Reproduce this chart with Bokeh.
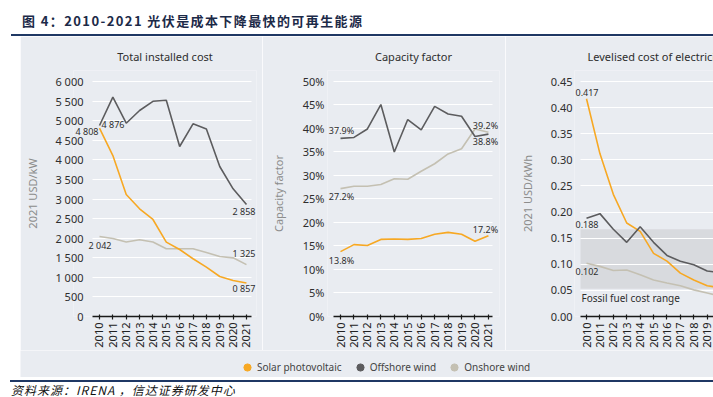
import numpy as np
from bokeh.plotting import figure
from bokeh.models import (Range1d, FixedTicker, Label, BoxAnnotation, Legend, LegendItem,
                          Div, Spacer, ColumnDataSource, Grid)
from bokeh.layouts import column, row
from bokeh.embed import file_html
from bokeh.resources import INLINE

# ---------------- data ----------------
years = [2010, 2011, 2012, 2013, 2014, 2015, 2016, 2017, 2018, 2019, 2020, 2021]
year_labels = ["2010", "2011", "2012", "2013", "2014", "2015", "2016", "2017", "2018", "2019", "2020", "2021"]
series_names = ["Solar photovoltaic", "Offshore wind", "Onshore wind"]

# Total installed cost (2021 USD/kW)
cost_solar = [4808, 4110, 3115, 2750, 2477, 1900, 1710, 1475, 1260, 1021, 920, 857]
cost_offshore = [4876, 5600, 4935, 5260, 5495, 5520, 4340, 4920, 4790, 3830, 3260, 2858]
cost_onshore = [2042, 1990, 1900, 1960, 1900, 1728, 1728, 1730, 1634, 1532, 1498, 1325]
cost_ticks = [0, 500, 1000, 1500, 2000, 2500, 3000, 3500, 4000, 4500, 5000, 5500, 6000]
cost_tick_labels = ["0", "500", "1 000", "1 500", "2 000", "2 500", "3 000", "3 500",
                    "4 000", "4 500", "5 000", "5 500", "6 000"]

# Capacity factor (%)
cf_solar = [13.8, 15.3, 15.1, 16.4, 16.5, 16.4, 16.6, 17.5, 17.9, 17.5, 16.0, 17.2]
cf_offshore = [37.9, 38.1, 39.9, 45.1, 35.0, 41.9, 39.7, 44.7, 43.1, 42.6, 38.3, 38.8]
cf_onshore = [27.2, 27.7, 27.7, 28.1, 29.3, 29.2, 30.9, 32.5, 34.6, 35.7, 39.9, 39.2]
cf_ticks = [0, 5, 10, 15, 20, 25, 30, 35, 40, 45, 50]
cf_tick_labels = ["0%", "5%", "10%", "15%", "20%", "25%", "30%", "35%", "40%", "45%", "50%"]

# Levelised cost of electricity (2021 USD/kWh)
lcoe_solar = [0.417, 0.312, 0.234, 0.179, 0.163, 0.121, 0.106, 0.083, 0.070, 0.059, 0.055, 0.048]
lcoe_offshore = [0.188, 0.197, 0.167, 0.142, 0.172, 0.142, 0.117, 0.106, 0.099, 0.087, 0.084, 0.075]
lcoe_onshore = [0.102, 0.096, 0.088, 0.089, 0.080, 0.070, 0.064, 0.059, 0.051, 0.045, 0.039, 0.033]
lcoe_ticks = [0.0, 0.05, 0.1, 0.15, 0.2, 0.25, 0.3, 0.35, 0.4, 0.45]
lcoe_tick_labels = ["0.00", "0.05", "0.10", "0.15", "0.20", "0.25", "0.30", "0.35", "0.40", "0.45"]
fossil_range = [0.053, 0.167]

# ---------------- style ----------------
BG = "#e9ecf1"
COLORS = ["#f7a823", "#5c5c5e", "#c4c0b2"]
FONT = "Noto Sans"
TXT = "#2e2e2e"
HAS_CROSS = "cross_bounds" in Grid.properties()


def make_panel(title, width, bl, br, xr, xb, yr, ticks, tick_labels, ylabel,
               tick_standoff, ylabel_standoff, series):
    p = figure(width=width, height=314, x_range=Range1d(*xr), y_range=Range1d(*yr),
               output_backend="svg", toolbar_location=None,
               min_border_left=bl, min_border_right=br, min_border_top=34, min_border_bottom=34,
               background_fill_color=BG, border_fill_color=BG, outline_line_color=None)
    p.title.text = title
    p.title.text_font = FONT
    p.title.text_font_size = "11px"
    p.title.text_font_style = "normal"
    p.title.text_color = TXT
    p.title.align = "center"
    p.title.standoff = 14

    xa = p.xaxis[0]
    xa.bounds = xb
    xa.ticker = FixedTicker(ticks=years)
    xa.major_label_overrides = dict(zip(years, year_labels))
    xa.major_label_orientation = np.pi / 2
    xa.major_label_text_font = FONT
    xa.major_label_text_font_size = "11px"
    xa.major_label_text_color = "#222"
    xa.major_label_standoff = 3
    xa.axis_line_color = "#1a1a1a"
    xa.axis_line_width = 1.6
    xa.major_tick_line_color = "#1a1a1a"
    xa.major_tick_line_width = 1.2
    xa.major_tick_in = 2
    xa.major_tick_out = 3
    xa.minor_tick_line_color = None

    ya = p.yaxis[0]
    ya.ticker = FixedTicker(ticks=ticks)
    ya.major_label_overrides = dict(zip(ticks, tick_labels))
    ya.major_label_text_font = FONT
    ya.major_label_text_font_size = "11px"
    ya.major_label_text_color = TXT
    ya.major_label_standoff = tick_standoff
    ya.axis_line_color = None
    ya.major_tick_line_color = None
    ya.minor_tick_line_color = None
    ya.major_tick_in = 0
    ya.major_tick_out = 0
    ya.axis_label = ylabel
    ya.axis_label_text_font = FONT
    ya.axis_label_text_font_size = "11px"
    ya.axis_label_text_font_style = "normal"
    ya.axis_label_text_color = "#8c8c8c"
    ya.axis_label_standoff = ylabel_standoff

    p.xgrid.visible = False
    if HAS_CROSS:
        p.ygrid.cross_bounds = xb
        p.ygrid.grid_line_color = "white"
        p.ygrid.grid_line_width = 1.2
    else:
        p.ygrid.visible = False
        p.segment(x0=[xb[0]] * len(ticks), x1=[xb[1]] * len(ticks), y0=ticks, y1=ticks,
                  line_color="white", line_width=1.2, level="underlay")

    for idx in (2, 0, 1):
        p.line(years, series[idx], line_color=COLORS[idx], line_width=1.6)
    return p


def add_labels(p, items):
    for (x, y, text, xo, yo) in items:
        p.add_layout(Label(x=x, y=y, text=text, x_offset=xo, y_offset=yo,
                           text_align="center", text_baseline="middle",
                           text_font=FONT, text_font_size="9px", text_color=TXT))


def fmt_thousands(v):
    s = "%04d" % v
    return s[:-3] + " " + s[-3:]


# ---------------- panel 1 ----------------
p1 = make_panel("Total installed cost", 242, 53, 6, (2008.054, 2021.751), (2009.476, 2021.377),
                (0, 6281), cost_ticks, cost_tick_labels, "2021 USD/kW", -10, 12,
                [cost_solar, cost_offshore, cost_onshore])
add_labels(p1, [
    (years[0], cost_solar[0], fmt_thousands(cost_solar[0]), -12.5, -3.5),
    (years[0], cost_offshore[0], fmt_thousands(cost_offshore[0]), 13.5, 1),
    (years[0], cost_onshore[0], fmt_thousands(cost_onshore[0]), 0.5, -9),
    (years[-1], cost_offshore[-1], fmt_thousands(cost_offshore[-1]), -2.5, -7),
    (years[-1], cost_onshore[-1], fmt_thousands(cost_onshore[-1]), -2.5, 11),
    (years[-1], cost_solar[-1], fmt_thousands(cost_solar[-1]), -2.5, -6),
])

# ---------------- panel 2 ----------------
p2 = make_panel("Capacity factor", 243, 65, 6, (2009.033, 2021.822), (2009.48, 2021.30),
                (0, 52.34), cf_ticks, cf_tick_labels, "Capacity factor", 3, 14,
                [cf_solar, cf_offshore, cf_onshore])
add_labels(p2, [
    (years[0], cf_offshore[0], "%.1f%%" % cf_offshore[0], 1, 8),
    (years[0], cf_onshore[0], "%.1f%%" % cf_onshore[0], 1, -8),
    (years[0], cf_solar[0], "%.1f%%" % cf_solar[0], 1, -9),
    (years[-1], cf_onshore[-1], "%.1f%%" % cf_onshore[-1], -3, 7),
    (years[-1], cf_offshore[-1], "%.1f%%" % cf_offshore[-1], -3, -7.5),
    (years[-1], cf_solar[-1], "%.1f%%" % cf_solar[-1], -3, 6),
])

# ---------------- panel 3 ----------------
p3_bounds = (2009.553, 2019.47)
p3 = make_panel("Levelised cost of electricity", 208, 69, 0, (2009.105, 2019.47), p3_bounds,
                (0, 0.4711), lcoe_ticks, lcoe_tick_labels, "2021 USD/kWh", 2, 13,
                [lcoe_solar, lcoe_offshore, lcoe_onshore])
p3.title.align = "left"
p3.title.offset = 13
p3.add_layout(BoxAnnotation(left=p3_bounds[0], bottom=fossil_range[0], top=fossil_range[1],
                            fill_color="#d8dade", fill_alpha=1.0, line_color=None, level="image"))
p3.add_layout(Label(x=p3_bounds[0], y=fossil_range[0], x_offset=1, y_offset=-9,
                    text="Fossil fuel cost range",
                    text_align="left", text_baseline="middle", text_font=FONT,
                    text_font_size="10px", text_color=TXT))
add_labels(p3, [
    (years[0], lcoe_solar[0], "%.3f" % lcoe_solar[0], 0.5, 6),
    (years[0], lcoe_offshore[0], "%.3f" % lcoe_offshore[0], 0.5, -6),
    (years[0], lcoe_onshore[0], "%.3f" % lcoe_onshore[0], 0.5, -8),
])

# ---------------- legend ----------------
leg = figure(width=693, height=27, x_range=Range1d(0, 1), y_range=Range1d(0, 1),
             output_backend="svg", toolbar_location=None, min_border=0,
             min_border_left=0, min_border_right=0, min_border_top=0, min_border_bottom=0,
             background_fill_color=BG, border_fill_color=BG, outline_line_color=None,
             x_axis_type=None, y_axis_type=None)
leg.grid.visible = False
rends = []
for c in COLORS:
    src = ColumnDataSource(dict(x=np.array([np.nan]), y=np.array([np.nan])))
    rends.append(leg.scatter(x="x", y="y", source=src, marker="circle", size=8,
                             fill_color=c, line_color=c))
legend = Legend(items=[LegendItem(label=n, renderers=[r]) for n, r in zip(series_names, rends)],
                orientation="horizontal", location=(218, 1), padding=0, margin=0, spacing=9,
                label_standoff=1, glyph_width=18, glyph_height=18, border_line_color=None,
                background_fill_alpha=0, label_text_font=FONT, label_text_font_size="10px",
                label_text_color="#444")
leg.add_layout(legend)

# ---------------- header / footer ----------------
title_div = Div(text=('<div style="display:block;width:702px;margin-left:11px;height:36px;'
                      'border-bottom:2px solid #1f3864;box-sizing:border-box;'
                      'font-family:\'Noto Sans CJK SC\';font-weight:bold;font-size:13px;color:#1c2a48;'
                      'line-height:20px;padding-top:11px;padding-left:11px;'
                      'letter-spacing:1.4px;white-space:nowrap;">'
                      '图 4：2010-2021 光伏是成本下降最快的可再生能源</div>'),
                width=713, height=36, margin=0)
footer_div = Div(text=('<div style="display:block;width:703px;margin-left:10px;height:16px;margin-top:3px;'
                       'border-top:2px solid #1f3864;box-sizing:border-box;'
                       'font-family:\'Noto Sans CJK SC\';font-style:italic;font-size:12px;color:#111;'
                       'line-height:15px;padding-left:1px;letter-spacing:1px;white-space:nowrap;">'
                       '资料来源：IRENA ，信达证券研发中心</div>'),
                 width=713, height=19, margin=0)

layout = column(
    title_div,
    row(Spacer(width=20, height=314, margin=0), p1, p2, p3, spacing=0),
    row(Spacer(width=20, height=27, margin=0), leg, spacing=0),
    footer_div,
    spacing=0,
)

open("out.html", "w").write(file_html(layout, INLINE))
